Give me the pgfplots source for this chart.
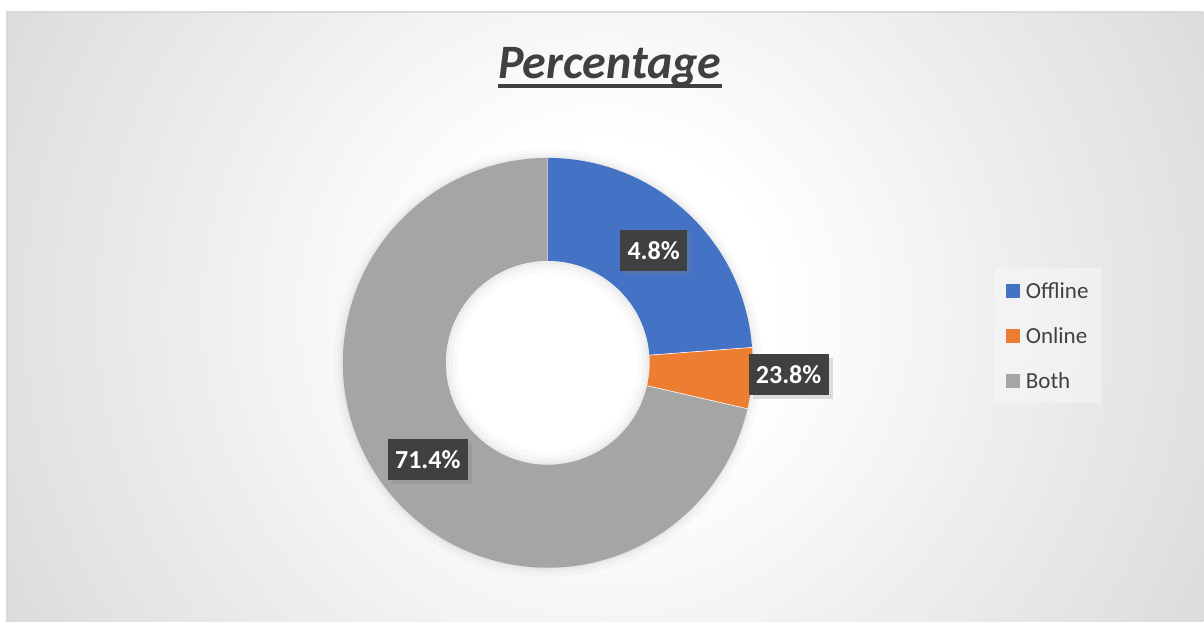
\documentclass[border=0pt]{standalone}
\usepackage{pgfplots}
\pgfplotsset{compat=1.18}
\usepackage{fontspec}
\setmainfont{Carlito}
\usetikzlibrary{shadows}

\definecolor{cblue}{HTML}{4472C4}
\definecolor{corange}{HTML}{ED7D31}
\definecolor{cgray}{HTML}{A5A5A5}
\definecolor{textgray}{HTML}{404040}
\definecolor{framegray}{HTML}{D9D9D9}

\pgfdeclareradialshading{chartbg}{\pgfpoint{0bp}{0bp}}{%
  color(0bp)=(white); color(6bp)=(white); color(10bp)=(black!3);
  color(15bp)=(black!7); color(20.5bp)=(black!11); color(30bp)=(black!19);
  color(34bp)=(black!22); color(50bp)=(black!30)}

% one doughnut wedge, centre (548,259) in pixel units, R=205, r=102 (1 unit = 0.5pt)
% #1 start (cumulative %), #2 share (%), #3 colour
\newcommand{\donutwedge}[3]{%
  \fill[#3]
    ([shift={({90-3.6*#1}:102.5pt)}]axis cs:548,259)
    arc[start angle={90-3.6*#1}, end angle={90-3.6*(#1+#2)}, radius=102.5pt]
    -- ([shift={({90-3.6*(#1+#2)}:51pt)}]axis cs:548,259)
    arc[start angle={90-3.6*(#1+#2)}, end angle={90-3.6*#1}, radius=51pt]
    -- cycle;
  \draw[white, line width=0.3pt] ([shift={({90-3.6*#1}:51pt)}]axis cs:548,259)
    -- ([shift={({90-3.6*#1}:102.5pt)}]axis cs:548,259);}

\begin{document}
\begin{tikzpicture}
\begin{axis}[
  hide axis, scale only axis, clip=false,
  width=602pt, height=311pt,
  xmin=0, xmax=1204, ymin=0, ymax=622,
]
% chart area
\path (axis cs:0,0) rectangle (axis cs:1204,622);
\begin{scope}
  \clip (axis cs:7,0) rectangle (axis cs:1204,610);
  \shade[shading=chartbg] (axis cs:-95,-389) rectangle (axis cs:1305,1011);
\end{scope}
\draw[framegray, line width=0.6pt] (axis cs:7,0) -- (axis cs:7,610) -- (axis cs:1204,610);

% soft glow round the ring
\fill[black, opacity=0.02] (axis cs:548,259) circle[radius=107pt];
\fill[black, opacity=0.025] (axis cs:548,259) circle[radius=105pt];
\fill[black, opacity=0.03] (axis cs:548,259) circle[radius=103.5pt];
\fill[white] (axis cs:548,259) circle[radius=51pt];
\fill[black, opacity=0.03, even odd rule] (axis cs:548,259) circle[radius=51pt] (axis cs:548,259) circle[radius=49.5pt];
\fill[black, opacity=0.025, even odd rule] (axis cs:548,259) circle[radius=51pt] (axis cs:548,259) circle[radius=47.5pt];
\fill[black, opacity=0.02, even odd rule] (axis cs:548,259) circle[radius=51pt] (axis cs:548,259) circle[radius=45pt];

% Offline 23.8, Online 4.8, Both 71.4
\donutwedge{0}{23.8}{cblue}
\donutwedge{23.8}{4.8}{corange}
\donutwedge{28.6}{71.4}{cgray}

% data labels
\tikzset{dlabel/.style={fill=textgray, text=white, font=\fontsize{13}{15}\selectfont\bfseries,
  minimum height=20.5pt, inner xsep=3.6pt, inner ysep=0pt,
  drop shadow={shadow xshift=2pt, shadow yshift=-2pt, opacity=0.25}}}
\node[dlabel] at (axis cs:654,371.5) {4.8\%};
\node[dlabel] at (axis cs:789,247.5) {23.8\%};
\node[dlabel] at (axis cs:428,162) {71.4\%};

% title
\node[inner sep=0pt, anchor=base, text=textgray,
  font=\fontsize{24}{28}\selectfont\bfseries\itshape] (t) at (axis cs:610,543) {Percentage};
\draw[textgray, line width=2pt] ([yshift=-3.6pt]t.base west) -- ([yshift=-3.6pt]t.base east);

% legend
\fill[white, opacity=0.35] (axis cs:995,219) rectangle (axis cs:1103,354);
\fill[cblue] (axis cs:1006,324) rectangle (axis cs:1020,338);
\fill[corange] (axis cs:1006,279) rectangle (axis cs:1020,293);
\fill[cgray] (axis cs:1006,234) rectangle (axis cs:1020,248);
\tikzset{ltext/.style={anchor=west, inner sep=0pt, text=textgray, font=\fontsize{11.5}{13}\selectfont}}
\node[ltext] at (axis cs:1026,331) {Offline};
\node[ltext] at (axis cs:1026,286) {Online};
\node[ltext] at (axis cs:1026,241) {Both};
\end{axis}
\end{tikzpicture}
\end{document}
